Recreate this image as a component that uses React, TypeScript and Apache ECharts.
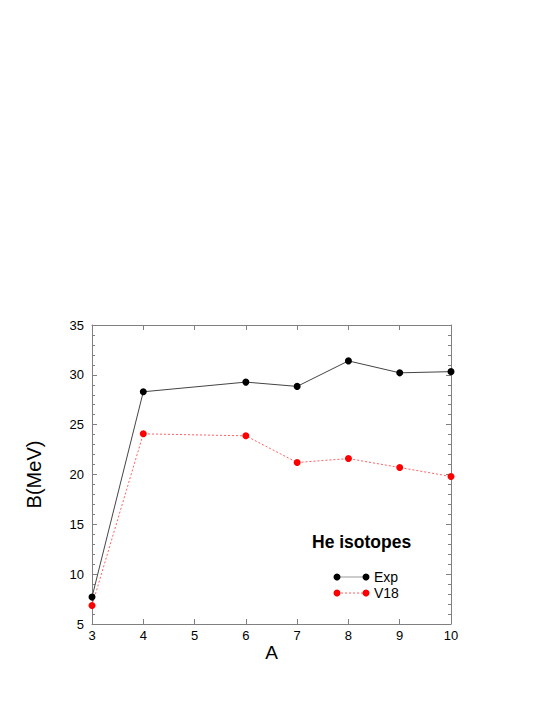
import React, { useEffect, useRef } from "react";
import * as echarts from "echarts";

const massNumbers = [3, 4, 6, 7, 8, 9, 10];
const expValues = [7.7, 28.3, 29.27, 28.84, 31.4, 30.2, 30.32];
const v18Values = [6.85, 24.08, 23.88, 21.2, 21.6, 20.7, 19.8];
const xTicks = [3, 4, 5, 6, 7, 8, 9, 10];
const yTicks = [5, 10, 15, 20, 25, 30, 35];

const FONT = "Liberation Sans, Arial, Helvetica, sans-serif";
const FRAME = "#808080";

export default function App() {
  const ref = useRef<HTMLDivElement>(null);
  useEffect(() => {
    if (!ref.current) return;
    const chart = echarts.init(ref.current, undefined, { renderer: "svg" });
    const axisCommon = {
      axisLine: { show: true, lineStyle: { color: FRAME, width: 1 } },
      axisTick: { show: true, inside: true, length: 5, lineStyle: { color: FRAME } },
      splitLine: { show: false },
    };
    chart.setOption({
      animation: false,
      backgroundColor: "#ffffff",
      grid: { left: 92, right: 94, top: 325, bottom: 81, containLabel: false },
      xAxis: [
        {
          type: "value",
          min: xTicks[0],
          max: xTicks[xTicks.length - 1],
          interval: 1,
          position: "bottom",
          ...axisCommon,
          axisLabel: { color: "#000", fontFamily: FONT, fontSize: 13, margin: 5 },
          name: "A",
          nameLocation: "middle",
          nameGap: 19,
          nameTextStyle: { color: "#000", fontFamily: FONT, fontSize: 19 },
        },
        {
          type: "value",
          min: xTicks[0],
          max: xTicks[xTicks.length - 1],
          interval: 1,
          position: "top",
          ...axisCommon,
          axisLabel: { show: false },
        },
      ],
      yAxis: [
        {
          type: "value",
          min: yTicks[0],
          max: yTicks[yTicks.length - 1],
          interval: 5,
          position: "left",
          ...axisCommon,
          minorTick: { show: true, splitNumber: 5, length: 3, lineStyle: { color: FRAME } },
          axisLabel: { color: "#000", fontFamily: FONT, fontSize: 13, margin: 8 },
          name: "B(MeV)",
          nameLocation: "middle",
          nameGap: 48,
          nameRotate: 90,
          nameTextStyle: { color: "#000", fontFamily: FONT, fontSize: 20 },
        },
        {
          type: "value",
          min: yTicks[0],
          max: yTicks[yTicks.length - 1],
          interval: 5,
          position: "right",
          ...axisCommon,
          minorTick: { show: true, splitNumber: 5, length: 3, lineStyle: { color: FRAME } },
          axisLabel: { show: false },
        },
      ],
      series: [
        {
          name: "Exp",
          type: "line",
          data: massNumbers.map((a, i) => [a, expValues[i]]),
          symbol: "circle",
          symbolSize: 7,
          itemStyle: { color: "#000000" },
          lineStyle: { color: "#444444", width: 1 },
          z: 3,
        },
        {
          name: "V18",
          type: "line",
          data: massNumbers.map((a, i) => [a, v18Values[i]]),
          symbol: "circle",
          symbolSize: 7,
          itemStyle: { color: "#ff0000" },
          lineStyle: { color: "#ff6060", width: 1, type: [2, 2] },
          z: 2,
        },
      ],
      graphic: [
        {
          type: "text",
          x: 312,
          y: 542,
          style: { text: "He isotopes", fill: "#000", font: `bold 17.5px ${FONT}`, verticalAlign: "middle" },
        },
        { type: "line", shape: { x1: 337, y1: 577, x2: 366, y2: 577 }, style: { stroke: "#999", lineWidth: 1 } },
        { type: "circle", shape: { cx: 337, cy: 577, r: 3.5 }, style: { fill: "#000" } },
        { type: "circle", shape: { cx: 366, cy: 577, r: 3.5 }, style: { fill: "#000" } },
        {
          type: "text",
          x: 374,
          y: 577,
          style: { text: "Exp", fill: "#000", font: `14px ${FONT}`, verticalAlign: "middle" },
        },
        { type: "line", shape: { x1: 337, y1: 593, x2: 366, y2: 593 }, style: { stroke: "#ff6060", lineWidth: 1, lineDash: [2, 2] } },
        { type: "circle", shape: { cx: 337, cy: 593, r: 3.5 }, style: { fill: "#ff0000" } },
        { type: "circle", shape: { cx: 366, cy: 593, r: 3.5 }, style: { fill: "#ff0000" } },
        {
          type: "text",
          x: 374,
          y: 593,
          style: { text: "V18", fill: "#000", font: `14px ${FONT}`, verticalAlign: "middle" },
        },
      ],
    });
    return () => chart.dispose();
  }, []);
  return <div ref={ref} style={{ width: 545, height: 705, margin: -8 }} />;
}
